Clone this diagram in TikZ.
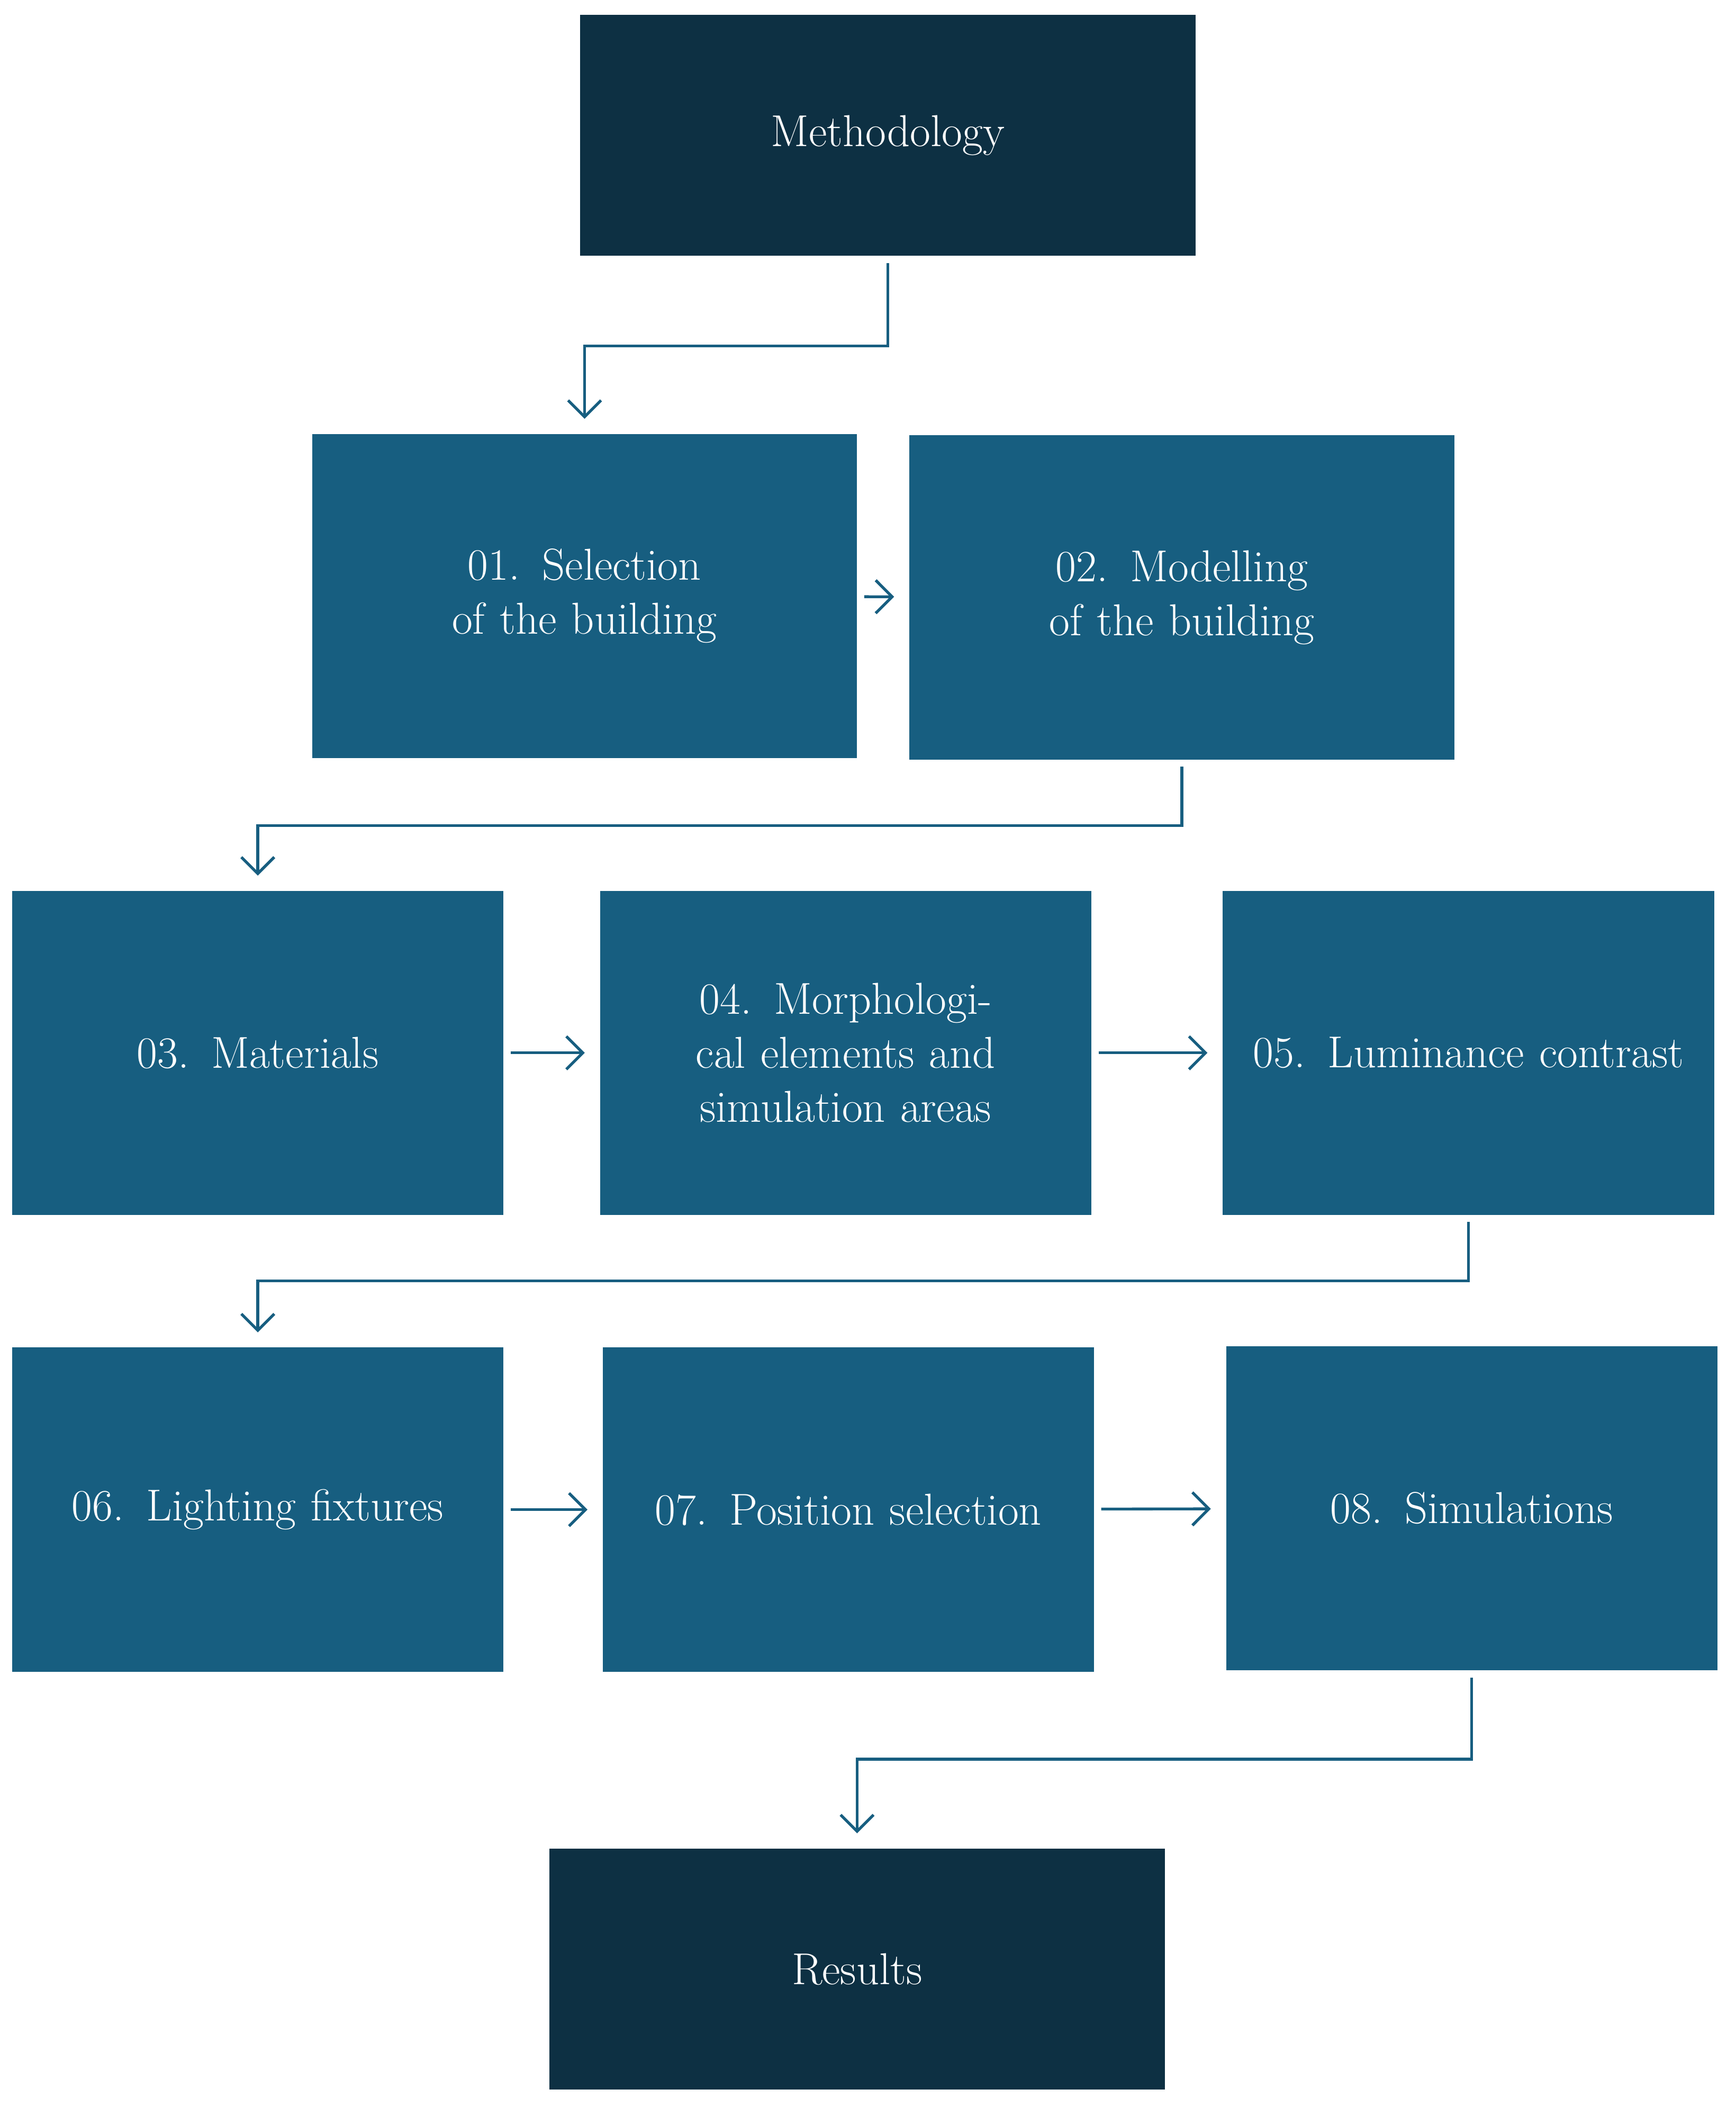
\documentclass[tikz,border=0pt]{standalone}
\usetikzlibrary{arrows.meta}
\definecolor{darkbox}{HTML}{0D3043}
\definecolor{midbox}{HTML}{175E80}
\begin{document}
\begin{tikzpicture}[x=0.02cm, y=-0.02cm]
    \tikzstyle{head} = [draw=none, fill=darkbox, text=white, rectangle,
    minimum width=9.2cm, minimum height=3.6cm, font=\fontsize{19}{23}\selectfont]
    \tikzstyle{stage} = [draw=none, fill=midbox, text=white, rectangle, align=center,
    minimum width=7.34cm, minimum height=4.84cm, text width=6.6cm,
    font=\fontsize{19}{23}\selectfont]
    \tikzstyle{flow} = [draw=midbox, line width=1.2pt, -{Straight Barb[length=7pt,width=14pt]},
    shorten <=0.1cm, shorten >=0.22cm]
    \useasboundingbox (0,0) rectangle (1296,1573);
    \node [head] (meth) at (663,101) {Methodology};
    \node [stage, minimum width=8.14cm] (s01) at (436.5,445) {01. Selection of the building};
    \node [stage, minimum width=8.14cm] (s02) at (882.5,446) {02. Modelling of the building};
    \node [stage] (s03) at (192.5,786) {03. Materials};
    \node [stage] (s04) at (631.5,786) {04. Morphological elements and simulation areas};
    \node [stage] (s05) at (1096.5,786) {05. Luminance contrast};
    \node [stage] (s06) at (192.5,1127) {06. Lighting fixtures};
    \node [stage] (s07) at (633.5,1127) {07. Position selection};
    \node [stage] (s08) at (1099,1126) {08. Simulations};
    \node [head] (res) at (640,1470) {Results};
    % vertical links
    \draw [flow] (meth.south) -- ++(0,67) -| (s01.north);
    \draw [flow] (s02.south) -- ++(0,49) -| (s03.north);
    \draw [flow] (s05.south) -- ++(0,49) -| (s06.north);
    \draw [flow] (s08.south) -- ++(0,66) -| (res.north);
    % horizontal links
    \draw [flow] (s01) -- (s02);
    \draw [flow] (s03) -- (s04);
    \draw [flow] (s04) -- (s05);
    \draw [flow] (s06) -- (s07);
    \draw [flow] (s07) -- (s08);
\end{tikzpicture}
\end{document}
